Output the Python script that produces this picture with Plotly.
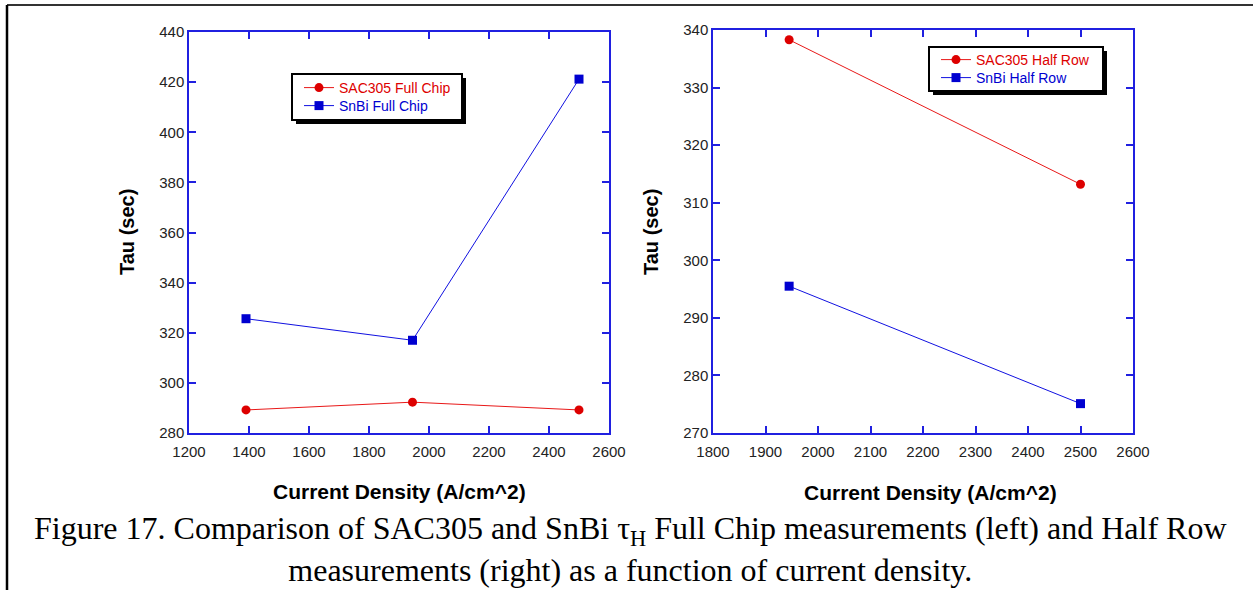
import plotly.graph_objects as go

W, H = 1253, 590

# Left panel (Full Chip)
full_x = [1390, 1945, 2500]
full_sac305 = [289.2, 292.3, 289.2]
full_snbi = [325.6, 317.0, 421.2]

# Right panel (Half Row)
half_x = [1945, 2500]
half_sac305 = [338.3, 313.2]
half_snbi = [295.5, 275.1]

RED_LINE = "#e81818"
RED_MK = "#dd0000"
BLUE_LINE = "#1010e0"
BLUE_MK = "#0000d0"
AXIS_BLUE = "#2020e0"


def px(x):
    return x / W


def py(y):
    return 1 - y / H


fig = go.Figure()

fig.add_trace(go.Scatter(x=full_x, y=full_sac305, mode="lines+markers",
                         name=f"<span style='color:{RED_MK}'>SAC305 Full Chip</span>",
                         line=dict(color=RED_LINE, width=1),
                         marker=dict(symbol="circle", size=9, color=RED_MK),
                         xaxis="x", yaxis="y", legend="legend"))
fig.add_trace(go.Scatter(x=full_x, y=full_snbi, mode="lines+markers",
                         name=f"<span style='color:{BLUE_MK}'>SnBi Full Chip</span>",
                         line=dict(color=BLUE_LINE, width=1),
                         marker=dict(symbol="square", size=9, color=BLUE_MK),
                         xaxis="x", yaxis="y", legend="legend2"))
fig.add_trace(go.Scatter(x=half_x, y=half_sac305, mode="lines+markers",
                         name=f"<span style='color:{RED_MK}'>SAC305 Half Row</span>",
                         line=dict(color=RED_LINE, width=1),
                         marker=dict(symbol="circle", size=9, color=RED_MK),
                         xaxis="x2", yaxis="y2", legend="legend3"))
fig.add_trace(go.Scatter(x=half_x, y=half_snbi, mode="lines+markers",
                         name=f"<span style='color:{BLUE_MK}'>SnBi Half Row</span>",
                         line=dict(color=BLUE_LINE, width=1),
                         marker=dict(symbol="square", size=9, color=BLUE_MK),
                         xaxis="x2", yaxis="y2", legend="legend4"))

tickfont = dict(family="Liberation Sans, Arial, sans-serif", size=15, color="#222222")
axis_common = dict(showline=True, linecolor=AXIS_BLUE, linewidth=1.5, mirror="allticks",
                   ticks="inside", ticklen=7, tickwidth=1.5, tickcolor=AXIS_BLUE,
                   showgrid=False, zeroline=False, tickfont=tickfont)

legfont = dict(family="Liberation Sans, Arial, sans-serif", size=14)


def leg(x, y):
    return dict(x=px(x), y=py(y), xanchor="left", yanchor="top",
                bgcolor="rgba(0,0,0,0)", borderwidth=0, font=legfont)


fig.update_layout(
    width=W, height=H,
    margin=dict(l=0, r=0, t=0, b=0, pad=0, autoexpand=False),
    paper_bgcolor="white", plot_bgcolor="white",
    xaxis=dict(domain=[px(189), px(609)], range=[1200, 2600], dtick=200,
               tick0=1200, anchor="y", ticklabelstandoff=4, **axis_common),
    yaxis=dict(domain=[py(433), py(32)], range=[280, 440], dtick=20,
               anchor="x", **axis_common),
    xaxis2=dict(domain=[px(713), px(1133)], range=[1800, 2600], dtick=100,
                tick0=1800, anchor="y2", ticklabelstandoff=4, **axis_common),
    yaxis2=dict(domain=[py(433), py(30)], range=[270, 340], dtick=10,
                anchor="x2", **axis_common),
    legend=leg(299, 72),
    legend2=leg(299, 90),
    legend3=leg(936, 44),
    legend4=leg(936, 62),
    showlegend=True,
)

shapes = []
# legend boxes with drop shadow
for (x0, y0, x1, y1) in [(292, 74, 462, 120), (929, 47, 1103, 91)]:
    shapes.append(dict(type="rect", xref="paper", yref="paper",
                       x0=px(x0 + 4), x1=px(x1 + 4), y0=py(y1 + 4), y1=py(y0 + 4),
                       fillcolor="black", line=dict(width=0), layer="above"))
    shapes.append(dict(type="rect", xref="paper", yref="paper",
                       x0=px(x0), x1=px(x1), y0=py(y1), y1=py(y0),
                       fillcolor="white", line=dict(color="black", width=2), layer="above"))
# page border lines (top and left)
shapes.append(dict(type="line", xref="paper", yref="paper", x0=px(7), x1=1, y0=py(5), y1=py(5),
                   line=dict(color="#333333", width=2)))
shapes.append(dict(type="line", xref="paper", yref="paper", x0=px(7), x1=px(7), y0=py(5), y1=0,
                   line=dict(color="black", width=2.5)))
fig.update_layout(shapes=shapes)

title_font = dict(family="Liberation Sans, Arial, sans-serif", size=21, color="black")
ytitle_font = dict(family="Liberation Sans, Arial, sans-serif", size=20, color="black")
cap_font = dict(family="Liberation Serif, Times New Roman, serif", size=32, color="black")
annotations = [
    dict(text="<b>Tau (sec)</b>", x=px(127), y=py(232), textangle=-90, font=ytitle_font),
    dict(text="<b>Tau (sec)</b>", x=px(651), y=py(232), textangle=-90, font=ytitle_font),
    dict(text="<b>Current Density (A/cm^2)</b>", x=px(399), y=py(491), font=title_font),
    dict(text="<b>Current Density (A/cm^2)</b>", x=px(930), y=py(492), font=title_font),
    dict(text="Figure 17. Comparison of SAC305 and SnBi τ<sub>H</sub> Full Chip measurements (left) and Half Row"
              "<br>measurements (right) as a function of current density.",
         x=px(630), y=py(549), font=cap_font, align="center"),
]
for a in annotations:
    a.update(xref="paper", yref="paper", showarrow=False, xanchor="center", yanchor="middle")
fig.update_layout(annotations=annotations)

fig.write_html("out.html", config={"displayModeBar": False},
               post_script="document.body.style.margin='0';document.body.style.overflow='hidden';")
